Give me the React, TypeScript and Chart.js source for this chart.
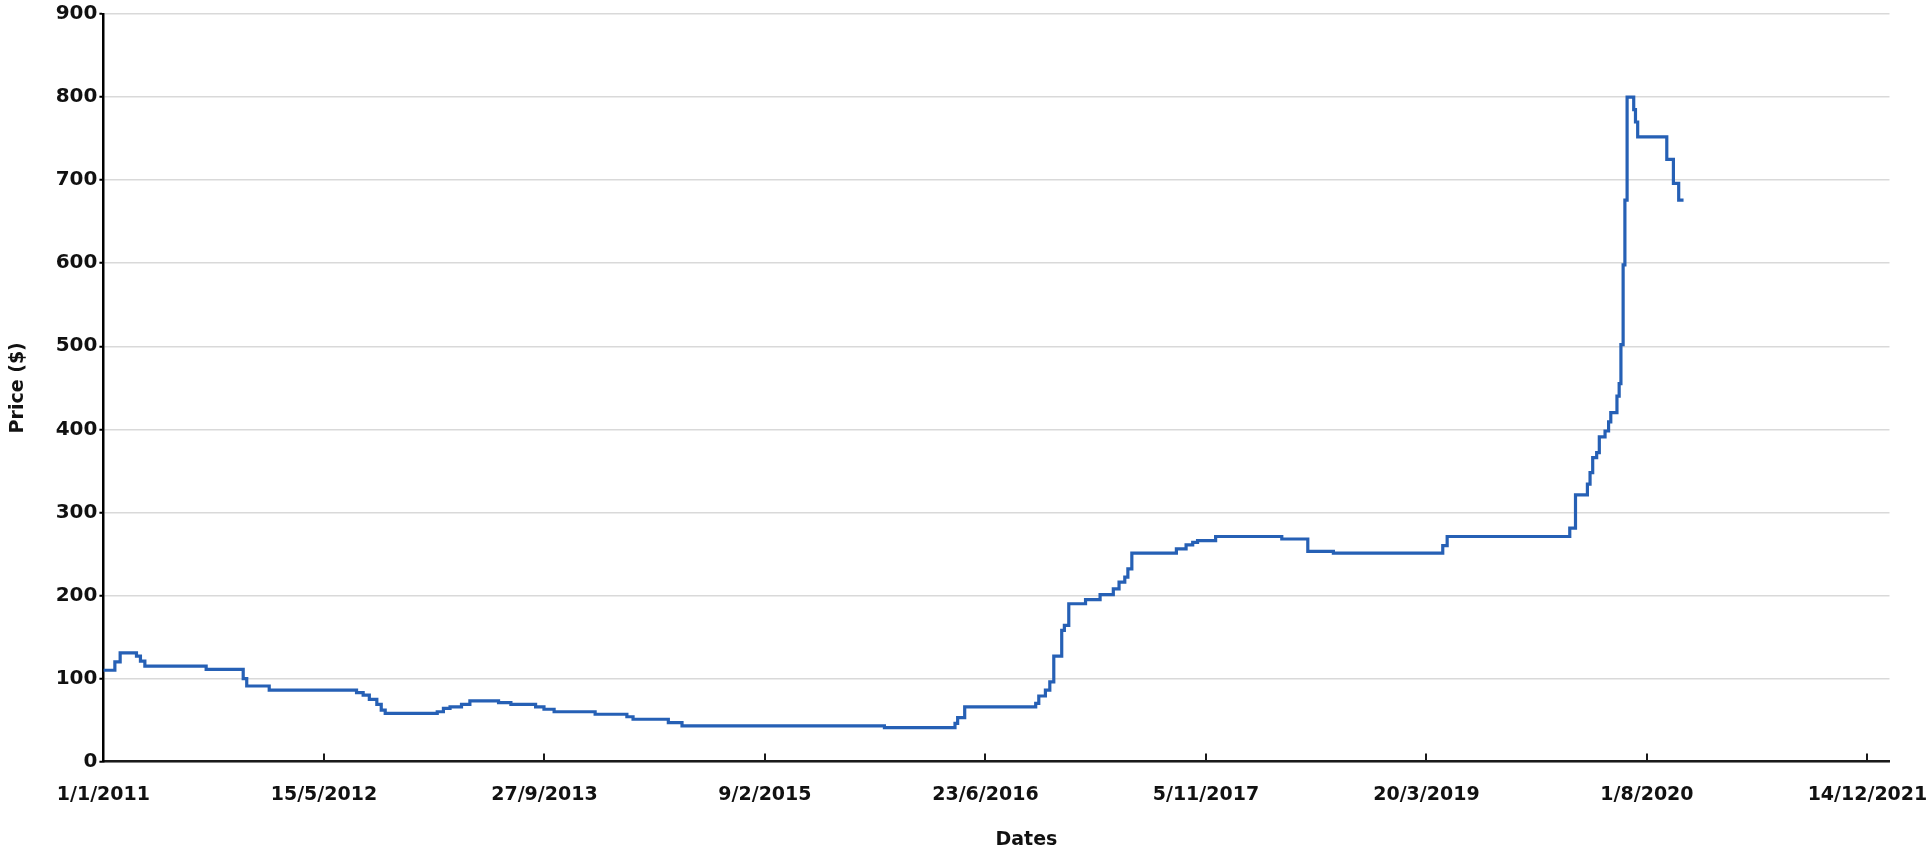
import React, { useEffect, useRef } from "react";
import { Chart, registerables } from "chart.js";

Chart.register(...registerables);

// Day 0 = 1/1/2011
const START_UTC = Date.UTC(2011, 0, 1);

// Days since 1/1/2011 at which the price changes (value held until next point)
const daysSinceStart = [
  0, 26, 38, 75, 84, 94, 233, 317, 325, 376, 574, 589, 603, 620, 630, 639,
  757, 771, 786, 812, 831, 896, 924, 980, 999, 1022, 1115, 1187, 1201, 1281,
  1312, 1771, 1931, 1937, 1953, 2114, 2121, 2136, 2146, 2155, 2173, 2179,
  2189, 2227, 2260, 2290, 2303, 2316, 2323, 2332, 2433, 2455, 2470, 2481,
  2522, 2672, 2731, 2789, 3037, 3047, 3325, 3338, 3365, 3371, 3377, 3386,
  3392, 3405, 3413, 3418, 3432, 3437, 3441, 3446, 3450, 3455, 3470, 3474,
  3479, 3545, 3560, 3572, 3583,
];

// Price ($)
const priceUSD = [
  110, 120, 131, 127, 121, 115, 111, 100, 91, 86, 83, 80, 75, 69, 62, 58,
  60, 64, 66, 69, 73, 71, 69, 66, 63, 60, 57, 54, 51, 47,
  43, 41, 46, 53, 66, 70, 79, 86, 96, 127, 158, 164,
  190, 195, 201, 208, 216, 222, 232, 251, 256, 261, 264, 266,
  271, 268, 253, 251, 260, 271, 281, 321, 334, 348, 366, 372,
  391, 398, 409, 420, 440, 455, 502, 598, 676, 800, 785, 770,
  752, 725, 696, 676, 676,
];

// X tick positions (days since 1/1/2011): 1/1/2011 ... 14/12/2021
const xTickDays = [0, 500, 1000, 1500, 2000, 2500, 3000, 3500, 4000];
// Y tick values
const yTickValues = [0, 100, 200, 300, 400, 500, 600, 700, 800, 900];

const X_MIN = 0;
const X_MAX = 4050;
const Y_MIN = 0;
const Y_MAX = 900;

const X_TITLE = "Dates";
const Y_TITLE = "Price ($)";

const FONT_FAMILY = "'DejaVu Sans', 'Liberation Sans', sans-serif";
const TEXT_COLOR = "#111111";
const LINE_COLOR = "#2660b5";

function formatDay(v: number): string {
  const d = new Date(START_UTC + Math.round(v) * 86400000);
  return `${d.getUTCDate()}/${d.getUTCMonth() + 1}/${d.getUTCFullYear()}`;
}

const xDecorPlugin = {
  id: "xDecor",
  afterDraw(chart: any) {
    const ctx = chart.ctx;
    const xs = chart.scales.x;
    const area = chart.chartArea;
    ctx.save();
    // inward tick marks on the x axis
    ctx.strokeStyle = "#1a1a1a";
    ctx.lineWidth = 2;
    xs.ticks.forEach((t: any) => {
      if (t.value === X_MIN) return;
      const px = Math.round(xs.getPixelForValue(t.value));
      ctx.beginPath();
      ctx.moveTo(px, area.bottom);
      ctx.lineTo(px, area.bottom - 8);
      ctx.stroke();
    });
    // x axis title
    ctx.fillStyle = TEXT_COLOR;
    ctx.font = `bold 19px ${FONT_FAMILY}`;
    ctx.textAlign = "center";
    ctx.textBaseline = "middle";
    const cx = (area.left + area.right) / 2 + 30;
    ctx.fillText(X_TITLE, cx, 840);
    ctx.restore();
  },
};

export default function App() {
  const canvasRef = useRef<HTMLCanvasElement | null>(null);

  useEffect(() => {
    const canvas = canvasRef.current;
    if (!canvas) return;
    const points = daysSinceStart.map((d, i) => ({ x: d, y: priceUSD[i] }));
    const chart = new Chart(canvas, {
      type: "line",
      data: {
        datasets: [
          {
            data: points,
            borderColor: LINE_COLOR,
            borderWidth: 3.2,
            pointRadius: 0,
            stepped: "before",
            fill: false,
          },
        ],
      },
      options: {
        responsive: false,
        animation: false,
        layout: { padding: { left: 0, top: 12, right: 40.5, bottom: 0 } },
        plugins: {
          legend: { display: false },
          tooltip: { enabled: false },
        },
        scales: {
          x: {
            type: "linear",
            min: X_MIN,
            max: X_MAX,
            afterBuildTicks: (s: any) => {
              s.ticks = xTickDays.map((v) => ({ value: v }));
            },
            ticks: {
              autoSkip: false,
              maxRotation: 0,
              minRotation: 0,
              padding: 14,
              color: TEXT_COLOR,
              font: { family: FONT_FAMILY, size: 19, weight: "bold" },
              callback: (v: any) => formatDay(Number(v)),
            },
            grid: { display: false },
            border: { display: true, color: "#1a1a1a", width: 2.5 },
            afterFit: (s: any) => {
              s.height = 91.4;
              s.paddingRight = 0;
              s.paddingLeft = 0;
            },
          },
          y: {
            min: Y_MIN,
            max: Y_MAX,
            afterBuildTicks: (s: any) => {
              s.ticks = yTickValues.map((v) => ({ value: v }));
            },
            ticks: {
              padding: 2,
              color: TEXT_COLOR,
              font: { family: FONT_FAMILY, size: 20, weight: "bold" },
            },
            grid: {
              color: "#d9d9d9",
              lineWidth: 1.5,
              tickColor: "#000000",
              tickLength: 4,
              tickWidth: 2,
            },
            border: { display: true, color: "#000000", width: 2.5 },
            title: {
              display: true,
              text: Y_TITLE,
              color: TEXT_COLOR,
              font: { family: FONT_FAMILY, size: 19, weight: "bold" },
              padding: { top: 7, bottom: 0 },
            },
            afterFit: (s: any) => {
              s.width = 103.4;
            },
          },
        },
      } as any,
      plugins: [xDecorPlugin],
    });
    return () => chart.destroy();
  }, []);

  return (
    <div
      style={{
        position: "fixed",
        left: 0,
        top: 0,
        width: 1930,
        height: 853,
        background: "#ffffff",
      }}
    >
      <canvas
        ref={canvasRef}
        width={1930}
        height={853}
        style={{ display: "block", width: 1930, height: 853 }}
      />
    </div>
  );
}
